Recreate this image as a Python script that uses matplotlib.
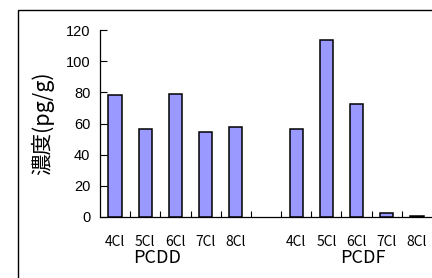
import matplotlib
matplotlib.use("Agg")
import matplotlib.pyplot as plt
from matplotlib.patches import Rectangle

categories = ["4Cl", "5Cl", "6Cl", "7Cl", "8Cl", "", "4Cl", "5Cl", "6Cl", "7Cl", "8Cl"]
values = [78, 56.5, 79, 54.5, 58, 0, 56.5, 113.5, 72.5, 2.3, 0.4]
groups = ["PCDD", "PCDF"]
yticks = [0, 20, 40, 60, 80, 100, 120]

cjk = ["Noto Sans CJK JP", "DejaVu Sans"]

fig = plt.figure(figsize=(4.32, 2.78), dpi=100)
fig.patches.append(Rectangle((18/432, -0.1), 1.2, (278-10)/278 + 0.1, transform=fig.transFigure,
                             fill=False, edgecolor="black", linewidth=1.0))
ax = fig.add_axes([100/432, 1-217/278, 332/432, (217-30)/278])
x = list(range(len(categories)))
bar_x = [i for i, c in zip(x, categories) if c]
bar_v = [v for v, c in zip(values, categories) if c]
ax.bar(bar_x, bar_v, width=0.44, color="#9999FF", edgecolor="black", linewidth=1.1, zorder=3)
ax.set_xlim(-0.5, len(categories) - 0.5)
ax.set_ylim(0, 120)
ax.set_yticks(yticks)
ax.set_yticklabels([str(t) for t in yticks], fontfamily="Liberation Sans", fontsize=10.5)
ax.tick_params(axis="y", direction="in", length=5, width=0.8, pad=7)
ax.set_xticks(bar_x)
ax.set_xticklabels([c for c in categories if c], fontfamily=cjk, fontsize=10)
ax.tick_params(axis="x", which="major", length=0, pad=13)
ax.set_xticks([i + 0.5 for i in range(len(categories) - 1)], minor=True)
ax.tick_params(axis="x", which="minor", direction="in", length=4, width=0.8)
for s in ["top", "right"]:
    ax.spines[s].set_visible(False)
ax.spines["left"].set_linewidth(0.9)
ax.spines["bottom"].set_linewidth(0.9)
ax.text(1.4, -26.5, groups[0], ha="center", va="center", fontfamily=cjk, fontsize=13)
ax.text(8.2, -26.5, groups[1], ha="center", va="center", fontfamily=cjk, fontsize=13)
fig.text(43/432, 1-123/278, "濃度(pg/g)", rotation=90, ha="center", va="center",
         fontfamily=cjk, fontsize=15.5)
fig.savefig("out.png", dpi=100)
